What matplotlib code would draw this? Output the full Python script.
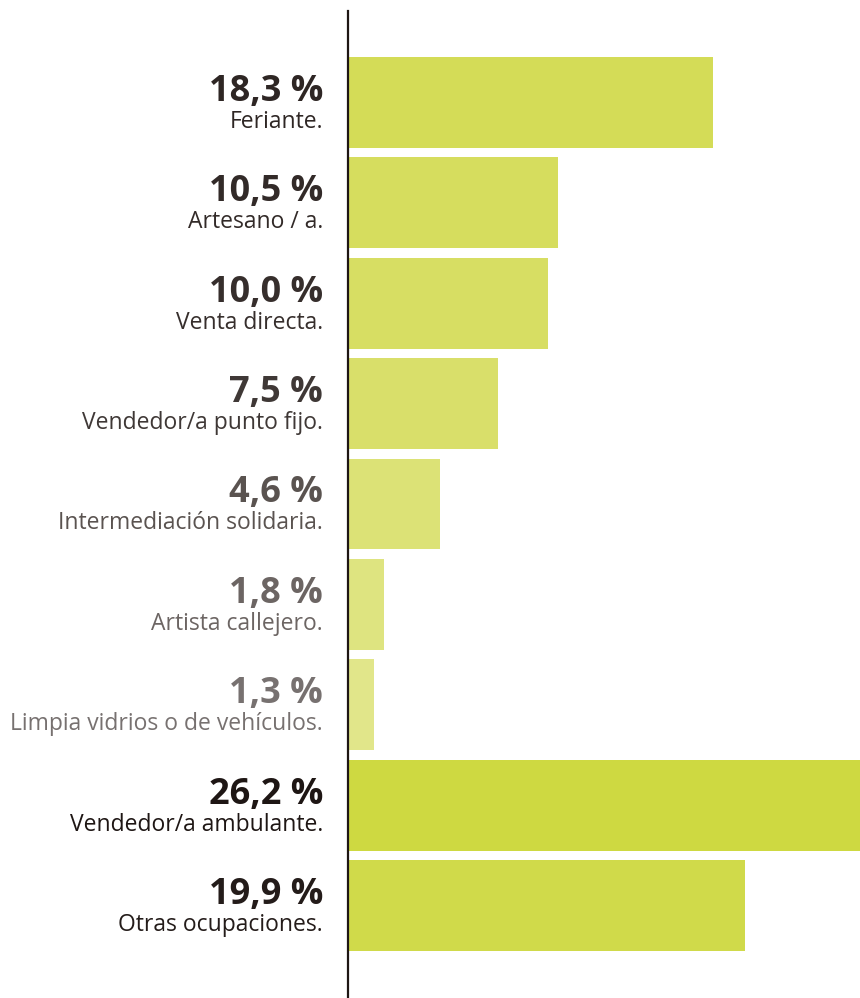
import matplotlib.pyplot as plt
from matplotlib.transforms import offset_copy

labels = ['Feriante.', 'Artesano / a.', 'Venta directa.', 'Vendedor/a punto fijo.',
          'Intermediación solidaria.', 'Artista callejero.',
          'Limpia vidrios o de vehículos.', 'Vendedor/a ambulante.', 'Otras ocupaciones.']
values = [18.3, 10.5, 10.0, 7.5, 4.6, 1.8, 1.3, 26.2, 19.9]
pct_text = ['18,3 %', '10,5 %', '10,0 %', '7,5 %', '4,6 %', '1,8 %', '1,3 %', '26,2 %', '19,9 %']

bar_colors = ['#D4DC57', '#D6DD5E', '#D7DE63', '#D9DF6A', '#DCE276',
              '#DEE480', '#E1E68A', '#CED941', '#D0DA4A']
text_colors = ['#2E2624', '#322A28', '#362E2C', '#3F3836', '#5A5350',
               '#6C6563', '#777170', '#1E1614', '#241C1A']

W, H = 860, 998
fig = plt.figure(figsize=(W / 100, H / 100), dpi=100)
ax = fig.add_axes([348 / W, 0, (W - 348) / W, (H - 11) / H])

ypos = list(range(len(values)))
ax.barh(ypos, values, height=0.905, color=bar_colors, zorder=1)
ax.set_xlim(0, 25.66)
ax.set_ylim(8.92, -0.91)

for s in ['top', 'right', 'bottom']:
    ax.spines[s].set_visible(False)
ax.spines['left'].set_color('#1E1614')
ax.spines['left'].set_linewidth(1.6)
ax.spines['left'].set_zorder(3)
ax.set_xticks([])
ax.set_yticks([])

x_txt = (323 - 348) / (W - 348)
base = ax.get_yaxis_transform()
tr_pct = offset_copy(base, fig=fig, x=0, y=1.5, units='dots')
tr_lab = offset_copy(base, fig=fig, x=0, y=-25.5, units='dots')

for y, lab, pct, col in zip(ypos, labels, pct_text, text_colors):
    ax.text(x_txt, y, pct, transform=tr_pct, ha='right', va='baseline',
            fontsize=26, fontweight='bold', family='Open Sans', color=col,
            clip_on=False)
    ax.text(x_txt, y, lab, transform=tr_lab, ha='right', va='baseline',
            fontsize=16.5, family='Open Sans', color=col, clip_on=False)

fig.savefig('out.png', dpi=100, facecolor='white')
